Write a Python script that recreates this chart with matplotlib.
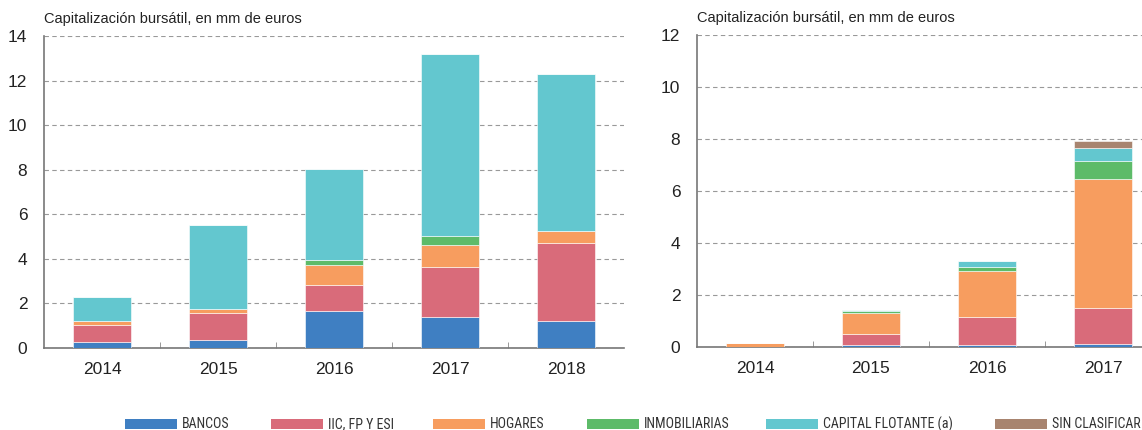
import numpy as np
import matplotlib.pyplot as plt
from matplotlib.patches import Rectangle
from matplotlib import font_manager

plt.rcParams['font.family'] = ['Liberation Sans', 'DejaVu Sans']

series = ['BANCOS', 'IIC, FP Y ESI', 'HOGARES', 'INMOBILIARIAS', 'CAPITAL FLOTANTE (a)', 'SIN CLASIFICAR']
colors = ['#3f7fc2', '#d96b7a', '#f79d5f', '#5dbb69', '#63c7cf', '#a8846f']

# left panel
years_l = ['2014', '2015', '2016', '2017', '2018']
bancos_l = [0.27, 0.36, 1.66, 1.40, 1.22]
iic_l = [0.74, 1.21, 1.18, 2.24, 3.47]
hogares_l = [0.21, 0.16, 0.88, 0.99, 0.58]
inmob_l = [0.0, 0.02, 0.25, 0.41, 0.0]
capital_l = [1.09, 3.78, 4.04, 8.17, 7.04]
sincl_l = [0.0, 0.0, 0.0, 0.0, 0.0]

# right panel
years_r = ['2014', '2015', '2016', '2017']
bancos_r = [0.0, 0.08, 0.08, 0.12]
iic_r = [0.0, 0.41, 1.06, 1.39]
hogares_r = [0.14, 0.83, 1.77, 4.94]
inmob_r = [0.0, 0.06, 0.17, 0.70]
capital_r = [0.0, 0.04, 0.21, 0.49]
sincl_r = [0.0, 0.0, 0.0, 0.28]

W, H = 1142, 430
fig = plt.figure(figsize=(W / 100, H / 100), dpi=100)


def panel(rect, years, data, ymax):
    ax = fig.add_axes(rect)
    x = np.arange(len(years))
    bottom = np.zeros(len(years))
    for vals, c in zip(data, colors):
        vals = np.array(vals)
        ax.bar(x, vals, 0.5, bottom=bottom, color=c, edgecolor='white', linewidth=0.4, zorder=3)
        bottom += vals
    ax.set_xlim(-0.5, len(years) - 0.5)
    ax.set_ylim(0, ymax)
    ax.set_yticks(np.arange(0, ymax + 1, 2))
    ax.set_xticks(x)
    ax.set_xticklabels(years, fontsize=12.5, color='#222222')
    ax.set_xticks(np.arange(0.5, len(years) - 0.5, 1), minor=True)
    ax.tick_params(axis='x', which='major', length=0, pad=10)
    ax.tick_params(axis='x', which='minor', direction='in', length=4, color='#888888')
    ax.tick_params(axis='y', length=0, pad=12, labelsize=12.5, labelcolor='#222222')
    ax.grid(axis='y', color='#999999', linestyle=(0, (4, 3)), linewidth=0.8, zorder=0)
    for s in ['top', 'right']:
        ax.spines[s].set_visible(False)
    for s in ['left', 'bottom']:
        ax.spines[s].set_color('#777777')
        ax.spines[s].set_linewidth(1.2)
    ax.set_title('Capitalización bursátil, en mm de euros', loc='left', fontsize=10.5,
                 color='#222222', pad=9)
    return ax


panel([44 / W, (H - 348) / H, 580 / W, 312 / H], years_l,
      [bancos_l, iic_l, hogares_l, inmob_l, capital_l, sincl_l], 14)
panel([697 / W, (H - 347) / H, 464 / W, 312 / H], years_r,
      [bancos_r, iic_r, hogares_r, inmob_r, capital_r, sincl_r], 12)

# legend row along the bottom (narrow font if there is one)
installed = {f.name for f in font_manager.fontManager.ttflist}
narrow = [n for n in ['Liberation Sans Narrow', 'Roboto Condensed', 'Open Sans Condensed'] if n in installed]
if narrow:
    leg_font, leg_size = [narrow[0], 'Liberation Sans'], 10
else:
    leg_font, leg_size = ['Liberation Sans'], 8.3

leg_x = [125, 271, 433, 587, 766, 995]
for px, name, c in zip(leg_x, series, colors):
    fig.patches.append(Rectangle((px / W, 1 - 429 / H), 52 / W, 10 / H, transform=fig.transFigure,
                                 facecolor=c, edgecolor='none'))
    fig.text((px + 57) / W, 1 - 424 / H, name, fontsize=leg_size, family=leg_font,
             color='#333333', va='center', ha='left')

fig.savefig('out.png', dpi=100)
